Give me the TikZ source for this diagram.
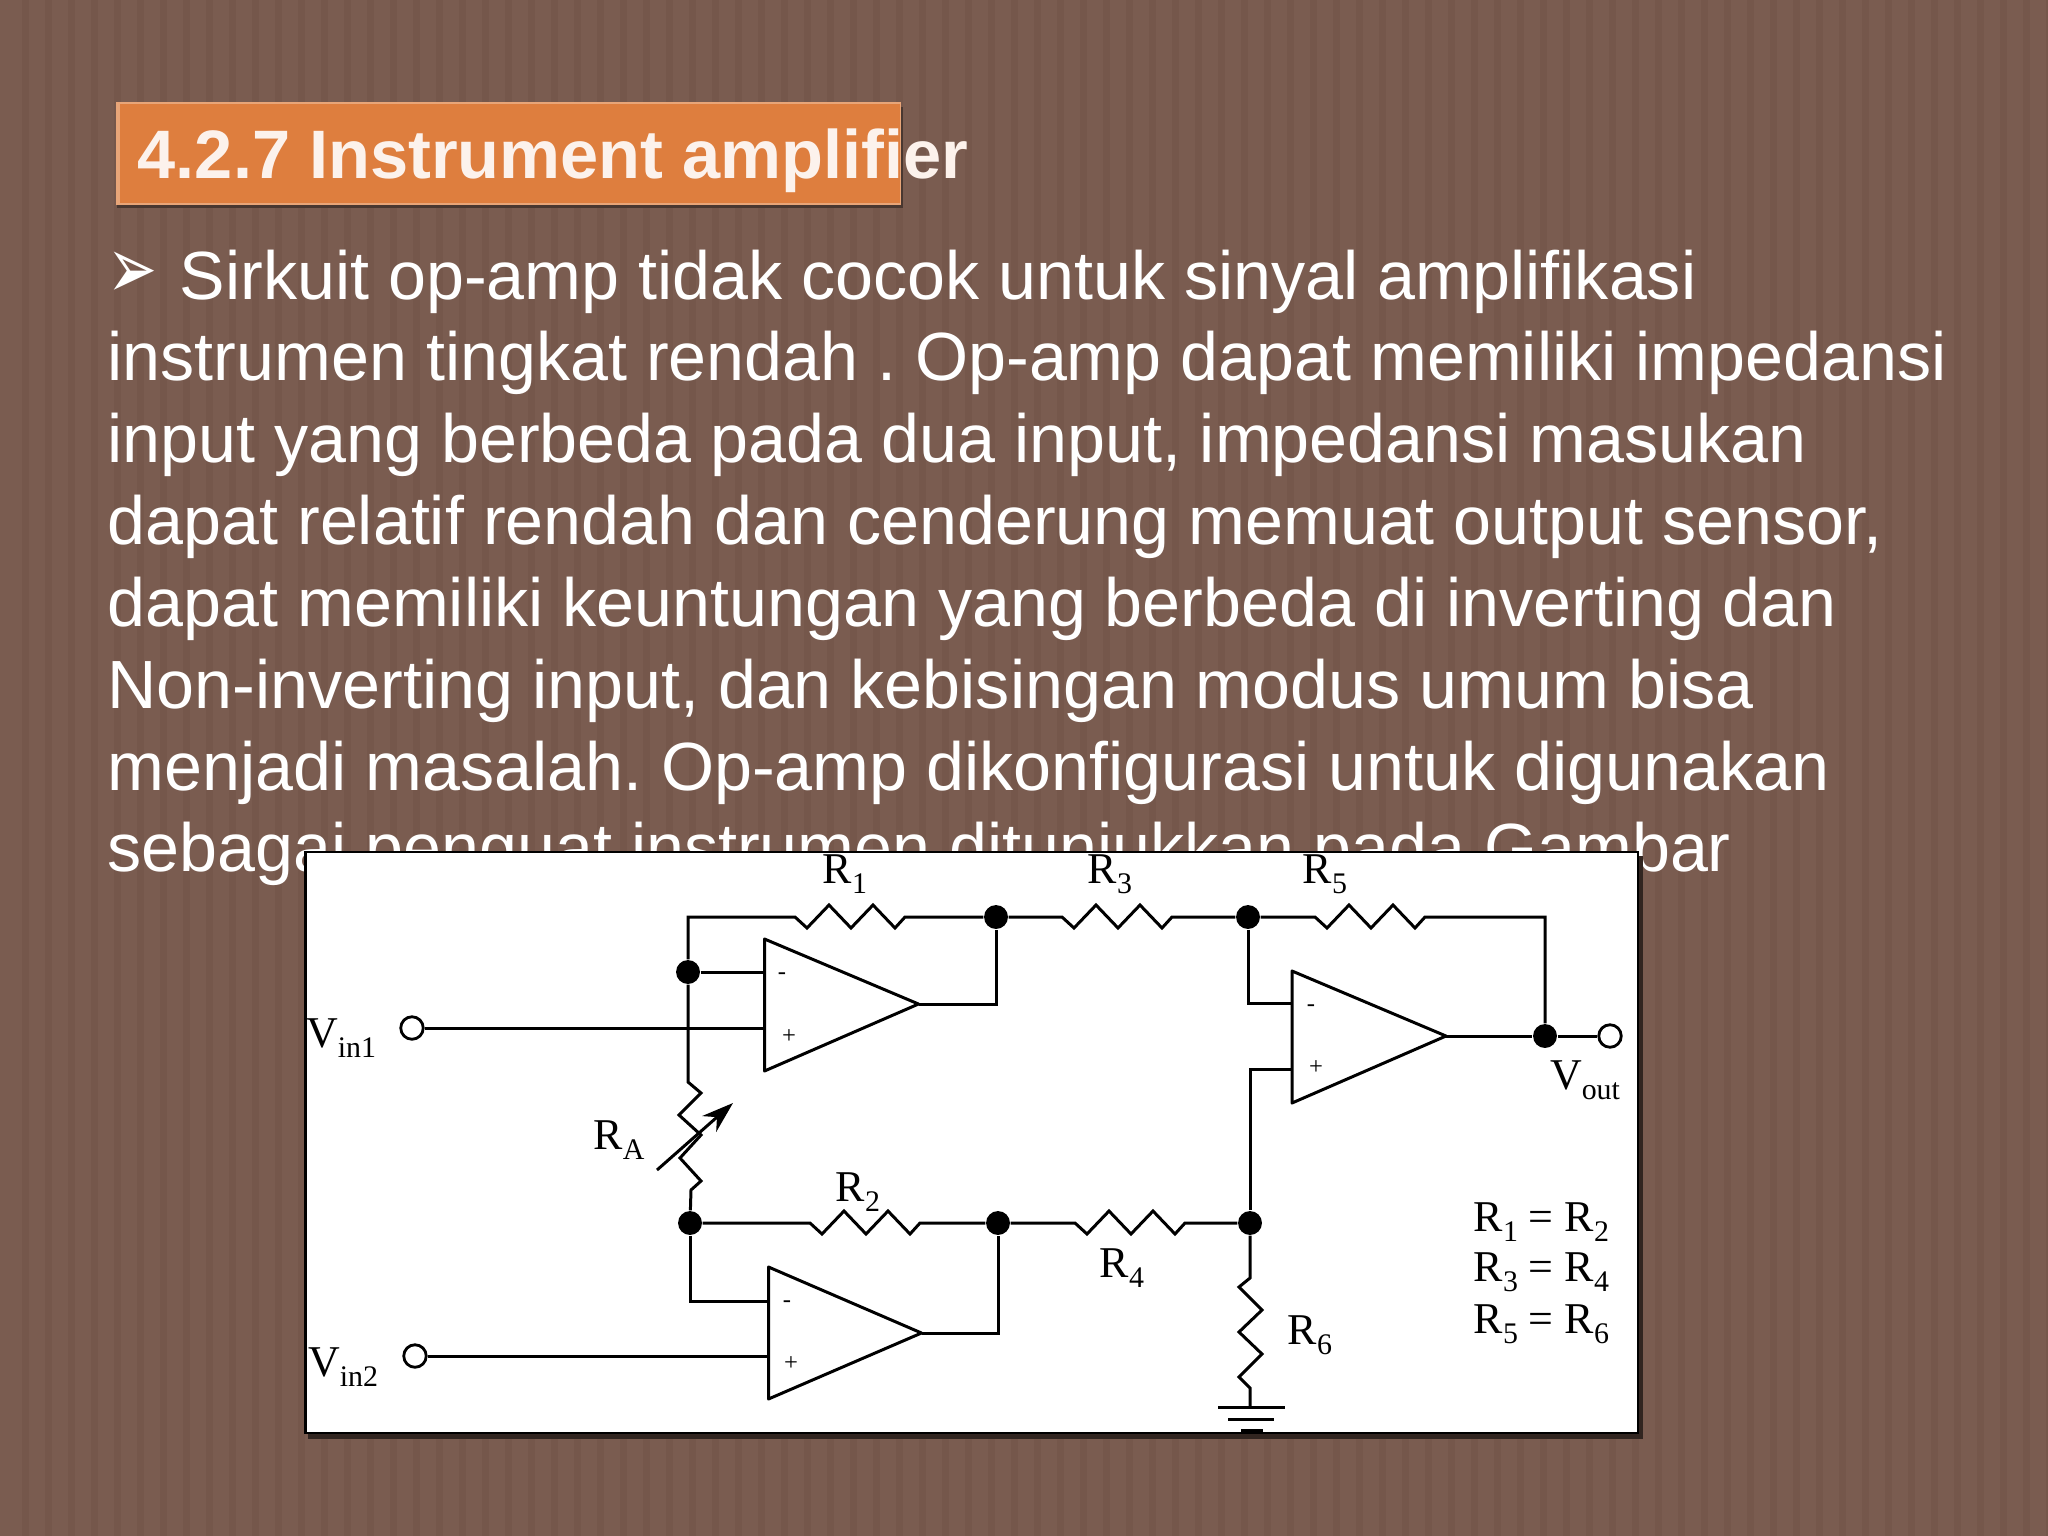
\documentclass[tikz,border=0pt]{standalone}
\usepackage{graphicx}
\usepackage{fontspec}
\setmainfont{Liberation Sans}
\newfontfamily\cktfont{Liberation Serif}
\newfontfamily\symfont{DejaVu Sans}
\usetikzlibrary{arrows.meta}
\definecolor{slidebg}{RGB}{122,92,80}
\definecolor{slidestripe}{RGB}{117,87,75}
\definecolor{titlebg}{RGB}{222,126,62}
\newcommand{\lowtxt}[1]{\raisebox{-0.5ex}{\fontsize{8.5}{9}\selectfont #1}}
\def\zigh{-- ++(12,11) -- ++(22,-23) -- ++(22,23) -- ++(22,-23) -- ++(22,23) -- ++(10,-11)}
\frenchspacing
\tikzset{
	wire/.style={line width=0.85pt,black},
	dotnode/.style={circle,fill=black,inner sep=0pt,minimum size=6.8pt},
	termnode/.style={circle,draw=black,fill=white,line width=0.8pt,inner sep=0pt,minimum size=6.4pt},
	cktlabel/.style={font=\cktfont\fontsize{12.5}{14}\selectfont,inner sep=0pt,black},
	signlabel/.style={font=\cktfont\fontsize{7}{8}\selectfont,inner sep=0pt,black},
}
\begin{document}
\begin{tikzpicture}[x=0.01cm,y=-0.01cm]
	\useasboundingbox (0,0) rectangle (2048,1536);
	\fill[slidebg] (0,0) rectangle (2048,1536);
	\foreach \sx in {22,45,...,2048}
		\fill[slidestripe] (\sx,0) rectangle ++(7,1536);

	\fill[black!40!slidebg] (117,107) rectangle (903,208);
	\fill[titlebg!70!white] (116,102) rectangle (901,205);
	\fill[titlebg] (120,104) rectangle (900,203);
	\node[anchor=base west,inner sep=0pt,text=white!90!titlebg,font=\bfseries\fontsize{19.5}{24}\selectfont] (title) at (137,178) {4.2.7 Instrument amplifier};

	\node[inner sep=0pt,text=white,font=\symfont\fontsize{17}{20}\selectfont] (bullet) at (133,275) {\scalebox{1}[1.46]{➢}};
	\node[anchor=north west,inner sep=0pt,align=left,text=white,font=\frenchspacing\fontsize{19.4}{23.27}\selectfont] (body) at (107,249) {\hspace*{7.2mm}Sirkuit op-amp tidak cocok untuk sinyal amplifikasi\\
		instrumen tingkat rendah . Op-amp dapat memiliki impedansi\\
		input yang berbeda pada dua input, impedansi masukan\\
		dapat relatif rendah dan cenderung memuat output sensor,\\
		dapat memiliki keuntungan yang berbeda di inverting dan\\
		Non-inverting input, dan kebisingan modus umum bisa\\
		menjadi masalah. Op-amp dikonfigurasi untuk digunakan\\
		sebagai penguat instrumen ditunjukkan pada Gambar};

	\fill[black!60!slidebg] (308,856) rectangle (1643,1439);
	\draw[fill=white,draw=black,line width=0.7pt] (305.5,852) rectangle (1638,1433);

	\coordinate (u1a) at (764.5,939);
	\coordinate (u1b) at (764.5,1071);
	\coordinate (u1o) at (918.5,1004);
	\coordinate (u1m) at (764.5,972);
	\coordinate (u1p) at (764.5,1028);
	\coordinate (u2a) at (768.5,1267);
	\coordinate (u2b) at (768.5,1399);
	\coordinate (u2o) at (921.5,1333);
	\coordinate (u2m) at (768.5,1301);
	\coordinate (u2p) at (768.5,1356);
	\coordinate (u3a) at (1292,971);
	\coordinate (u3b) at (1292,1103);
	\coordinate (u3o) at (1446,1036);
	\coordinate (u3m) at (1292,1003);
	\coordinate (u3p) at (1292,1069);

	\draw[wire,line join=round] (u1a) -- (u1o) -- (u1b) -- cycle;
	\draw[wire,line join=round] (u2a) -- (u2o) -- (u2b) -- cycle;
	\draw[wire,line join=round] (u3a) -- (u3o) -- (u3b) -- cycle;

	\node[dotnode] (d1) at (688,972) {};
	\node[dotnode] (d2) at (996,917) {};
	\node[dotnode] (d3) at (1248,917) {};
	\node[dotnode] (d4) at (690,1223) {};
	\node[dotnode] (d5) at (998,1223) {};
	\node[dotnode] (d6) at (1250,1223) {};
	\node[dotnode] (d7) at (1545,1036) {};

	\node[termnode] (vin1) at (412,1028) {};
	\node[termnode] (vin2) at (415,1356) {};
	\node[termnode] (vout) at (1610,1036) {};

	\coordinate (r1a) at (795,917);
	\coordinate (r2a) at (810,1223);
	\coordinate (r3a) at (1062,917);
	\coordinate (r4a) at (1075,1223);
	\coordinate (r5a) at (1315,917);
	\coordinate (ra1) at (688,1082);
	\coordinate (r6a) at (1250,1278);
	\coordinate (gnd) at (1250,1407);
	\coordinate (g1a) at (1218,1407);
	\coordinate (g1b) at (1285,1407);
	\coordinate (g2a) at (1228,1419);
	\coordinate (g2b) at (1274,1419);
	\coordinate (g3a) at (1241,1431);
	\coordinate (g3b) at (1263,1431);
	\coordinate (arra) at (657,1170);
	\coordinate (arrb) at (733,1103);

	\draw[wire] (d1) |- (r1a) \zigh -- (d2);
	\draw[wire] (d2) -- (r3a) \zigh -- (d3);
	\draw[wire] (d3) -- (r5a) \zigh -| (d7);
	\draw[wire] (d4) -- (r2a) \zigh -- (d5);
	\draw[wire] (d5) -- (r4a) \zigh -- (d6);
	\draw[wire] (d1) -- (u1m);
	\draw[wire] (vin1) -- (u1p);
	\draw[wire] (u1o) -| (d2);
	\draw[wire] (vin2) -- (u2p);
	\draw[wire] (d4) |- (u2m);
	\draw[wire] (u2o) -| (d5);
	\draw[wire] (d3) |- (u3m);
	\draw[wire] (d6) |- (u3p);
	\draw[wire] (u3o) -- (d7);
	\draw[wire] (d7) -- (vout);
	\draw[wire] (d1) -- (ra1) -- ++(13,11) -- ++(-22,22) -- ++(22,20) -- ++(-21,23) -- ++(21,23) -- ++(-10,9) -- (d4);
	\draw[wire] (d6) -- (r6a) -- ++(-11,9) -- ++(23,23) -- ++(-23,22) -- ++(23,22) -- ++(-23,23) -- ++(11,11) -- (gnd);
	\draw[wire] (g1a) -- (g1b);
	\draw[wire] (g2a) -- (g2b);
	\draw[wire,line width=1.2pt] (g3a) -- (g3b);
	\draw[wire,-{Stealth[length=9pt,width=6pt]}] (arra) -- (arrb);

	\node[signlabel] (u1minus) at (782,976) {-};
	\node[signlabel] (u1plus) at (789,1037) {+};
	\node[signlabel] (u2minus) at (787,1304) {-};
	\node[signlabel] (u2plus) at (791,1364) {+};
	\node[signlabel] (u3minus) at (1311,1008) {-};
	\node[signlabel] (u3plus) at (1316,1068) {+};

	\node[cktlabel] (lr1) at (845,874) {R\lowtxt{1}};
	\node[cktlabel] (lr3) at (1110,874) {R\lowtxt{3}};
	\node[cktlabel] (lr5) at (1325,874) {R\lowtxt{5}};
	\node[cktlabel] (lr2) at (858,1192) {R\lowtxt{2}};
	\node[cktlabel] (lr4) at (1122,1268) {R\lowtxt{4}};
	\node[cktlabel] (lr6) at (1310,1335) {R\lowtxt{6}};
	\node[cktlabel] (lra) at (619,1140) {R\lowtxt{A}};
	\node[cktlabel] (lvin1) at (341,1038) {V\lowtxt{in1}};
	\node[cktlabel] (lvin2) at (343,1367) {V\lowtxt{in2}};
	\node[cktlabel] (lvout) at (1585,1080) {V\lowtxt{out}};

	\node[cktlabel,anchor=west] (eq1) at (1473,1222) {R\lowtxt{1} = R\lowtxt{2}};
	\node[cktlabel,anchor=west] (eq2) at (1473,1272) {R\lowtxt{3} = R\lowtxt{4}};
	\node[cktlabel,anchor=west] (eq3) at (1473,1324) {R\lowtxt{5} = R\lowtxt{6}};
\end{tikzpicture}
\end{document}
